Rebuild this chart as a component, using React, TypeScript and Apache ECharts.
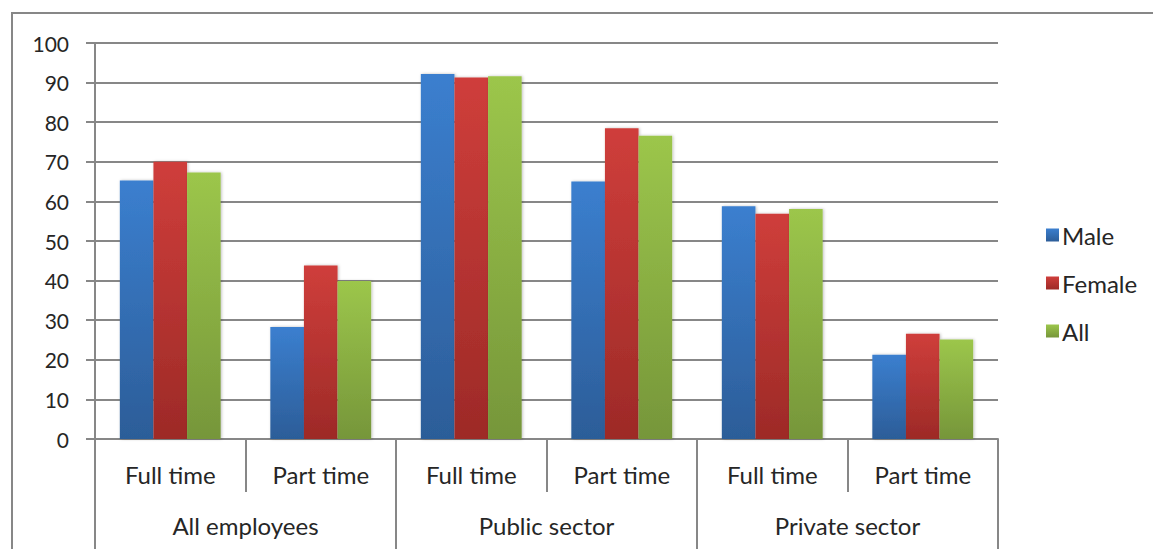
import React, { useEffect, useRef } from "react";
import * as echarts from "echarts";

const leafCategories = ["Full time", "Part time", "Full time", "Part time", "Full time", "Part time"];
const groupCategories = ["All employees", "Public sector", "Private sector"];
const seriesNames = ["Male", "Female", "All"];
const maleValues = [65.3, 28.3, 92.2, 65.0, 58.8, 21.3];
const femaleValues = [70.0, 43.8, 91.3, 78.5, 56.9, 26.6];
const allValues = [67.3, 39.9, 91.6, 76.6, 58.1, 25.1];

const FONT = "Lato, 'Open Sans', sans-serif";
const TEXT = "#262626";
const LINE = "#878787";

const grad = (top: string, bottom: string) =>
  new echarts.graphic.LinearGradient(0, 0, 0, 1, [
    { offset: 0, color: top },
    { offset: 1, color: bottom },
  ]);

export default function App() {
  const ref = useRef<HTMLDivElement>(null);

  useEffect(() => {
    if (!ref.current) return;
    const chart = echarts.init(ref.current, null, { renderer: "svg" });

    const colors = [
      grad("#3b7fcf", "#2c5d98"),
      grad("#cf3e3b", "#9d2a27"),
      grad("#9cc64b", "#76963a"),
    ];
    const values = [maleValues, femaleValues, allValues];

    chart.setOption({
      animation: false,
      textStyle: { fontFamily: FONT },
      grid: { left: 95, right: 155, top: 43, bottom: 110 },
      legend: {
        orient: "vertical",
        left: 1041,
        top: 218,
        itemWidth: 13,
        itemHeight: 13,
        itemGap: 24,
        icon: "rect",
        textStyle: { fontFamily: FONT, fontSize: 24, color: TEXT, padding: [0, 0, 0, -2] },
        data: seriesNames,
      },
      graphic: [
        {
          type: "rect",
          shape: { x: 12, y: 13, width: 1200, height: 600 },
          style: { fill: "none", stroke: LINE, lineWidth: 2 },
          silent: true,
        },
      ],
      xAxis: [
        {
          type: "category",
          position: "bottom",
          data: leafCategories,
          axisLine: { show: true, lineStyle: { color: LINE, width: 2 } },
          axisTick: { show: true, alignWithLabel: false, length: 53, lineStyle: { color: LINE, width: 2 } },
          axisLabel: { interval: 0, margin: 23, fontSize: 24, color: TEXT, fontFamily: FONT },
          splitLine: { show: false },
        },
        {
          type: "category",
          position: "bottom",
          offset: 0,
          data: groupCategories,
          axisLine: { show: false },
          axisTick: { show: true, length: 120, lineStyle: { color: LINE, width: 2 } },
          axisLabel: { interval: 0, margin: 74, fontSize: 24, color: TEXT, fontFamily: FONT },
          splitLine: { show: false },
        },
      ],
      yAxis: {
        type: "value",
        min: 0,
        max: 100,
        interval: 10,
        axisLine: { show: true, lineStyle: { color: LINE, width: 2 } },
        axisTick: { show: true, inside: false, length: 9, lineStyle: { color: LINE, width: 2 } },
        axisLabel: { margin: 26, fontSize: 21, color: TEXT, fontFamily: FONT },
        splitLine: { show: true, lineStyle: { color: LINE, width: 2 } },
      },
      series: seriesNames.map((name, i) => ({
        name,
        type: "bar",
        xAxisIndex: 0,
        data: values[i],
        barGap: "0%",
        barCategoryGap: "33%",
        itemStyle: {
          color: colors[i],
          shadowColor: "rgba(0,0,0,0.25)",
          shadowBlur: 3,
          shadowOffsetX: 1,
          shadowOffsetY: 0,
        },
      })),
    });

    return () => chart.dispose();
  }, []);

  return (
    <div
      ref={ref}
      style={{ position: "fixed", left: 0, top: 0, width: 1153, height: 549, background: "#fff" }}
    />
  );
}
